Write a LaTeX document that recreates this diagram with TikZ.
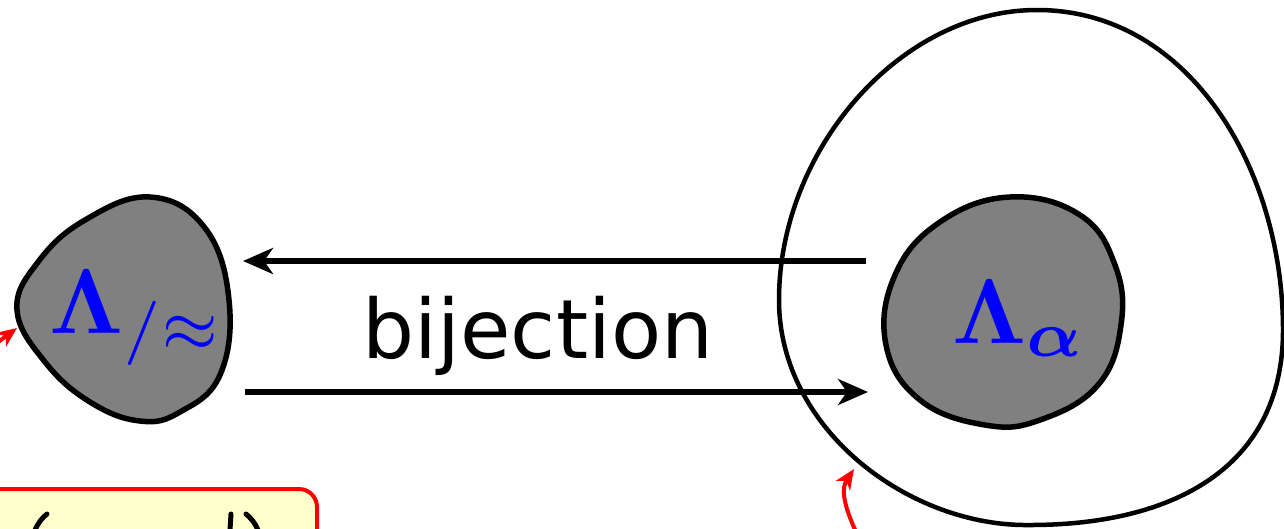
\documentclass[tikz,border=0pt]{standalone}
\usepackage{amsmath,bm}
\usepackage{graphicx}
\usepackage[no-math]{fontspec}
\newfontfamily\comicfont{DejaVu Sans}
\usetikzlibrary{arrows.meta}
\definecolor{blobgray}{RGB}{128,128,128}
\definecolor{boxyellow}{RGB}{255,255,204}
\tikzset{
  blob/.style={draw=black,line width=5.5pt,fill=blobgray},
  outer/.style={draw=black,line width=4.5pt},
  maparrow/.style={line width=6.5pt,-{Stealth[length=30pt,width=26pt,inset=9pt]}},
  redarrow/.style={draw=red,line width=4pt,-{Stealth[length=20pt,width=17pt,inset=6pt]}},
  lbl/.style={text=blue,inner sep=0pt},
  glyph/.style={line width=5pt,line cap=round}
}
\begin{document}
\begin{tikzpicture}[x=1pt,y=-1pt]
\useasboundingbox (0,0) rectangle (1284,528);
% big outer region
\draw[outer] (1037,10) .. controls (1190,10) and (1283,170) .. (1283,330)
  .. controls (1283,470) and (1170,525) .. (1030,525)
  .. controls (910,527) and (779,430) .. (779,300)
  .. controls (779,150) and (900,10) .. cycle;
% left blob
\draw[blob] plot[smooth cycle,tension=0.7] coordinates {(150,197) (205,228) (229,300) (220,375) (180,412) (140,421) (90,402) (45,362) (17,310) (38,262) (85,220)};
% right blob
\draw[blob] plot[smooth cycle,tension=0.7] coordinates {(1010,197) (1080,215) (1115,265) (1121,325) (1098,385) (1040,420) (985,425) (920,400) (886,345) (895,275) (940,222)};
% labels
\node[lbl,anchor=base west] (quot) at (49,333) {\scalebox{9.2}{$\mathbf{\Lambda}_{/\approx}$}};
\node[lbl,anchor=base west] (lalpha) at (952,343) {\scalebox{9.2}{$\mathbf{\Lambda}_{\bm{\alpha}}$}};
\node[inner sep=0pt,anchor=base] (bij) at (538,358) {\comicfont\fontsize{82pt}{90pt}\selectfont bijection};
% arrows
\coordinate (ta) at (866,261);
\coordinate (tb) at (243,261);
\coordinate (ba) at (245,392);
\coordinate (bb) at (868,392);
\draw[maparrow] (ta) -- (tb);
\draw[maparrow] (ba) -- (bb);
% red pointers
\coordinate (r1s) at (-10,348);
\coordinate (r1e) at (17,328);
\draw[redarrow] (r1s) -- (r1e);
\coordinate (r2s) at (860,540);
\coordinate (r2e) at (854,469);
\draw[redarrow] (r2s) .. controls (845,510) and (840,490) .. (r2e);
% bottom-left note box (cut off)
\draw[draw=red,line width=4pt,fill=boxyellow,rounded corners=18pt] (-20,489) rectangle (317,580);
\draw[glyph] (47,514) .. controls (42,518) and (38,523) .. (35,530);
\draw[glyph] (231,514) -- (230,530);
\draw[glyph] (246,514) .. controls (251,518) and (255,523) .. (258,530);
\end{tikzpicture}
\end{document}
